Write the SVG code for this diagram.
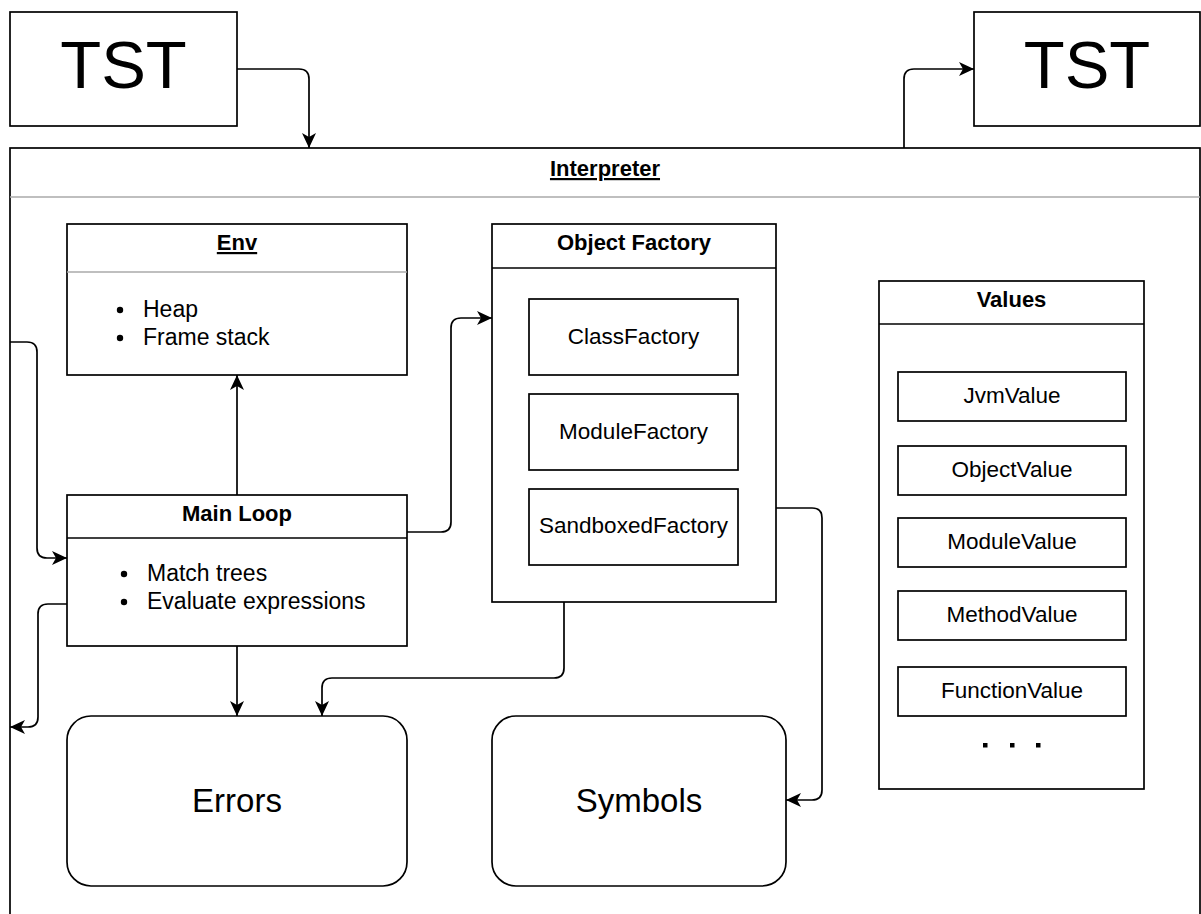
<svg xmlns="http://www.w3.org/2000/svg" width="1201" height="914" viewBox="0 0 1201 914">
  <style>
    .box { fill: #ffffff; stroke: #000000; stroke-width: 1.7; }
    .sep { stroke: #000000; stroke-width: 1.7; }
    .sep-soft { stroke: #aaaaaa; stroke-width: 1.7; }
    .edge { fill: none; stroke: #000000; stroke-width: 1.7; }
    text { font-family: "Liberation Sans", Arial, Helvetica, sans-serif; fill: #000000; }
    .title { font-size: 22px; font-weight: bold; text-anchor: middle; }
    .label { font-size: 22.5px; text-anchor: middle; }
    .item { font-size: 23px; }
    .big { font-size: 67px; text-anchor: middle; }
    .mid { font-size: 33px; text-anchor: middle; }
  </style>
  <defs>
    <marker id="arrow" markerUnits="userSpaceOnUse" markerWidth="16" markerHeight="14" viewBox="0 0 16 14" refX="15" refY="7" orient="auto">
      <path d="M0,0 L15,7 L0,14 L4,7 Z" fill="#000000"/>
    </marker>
  </defs>

  <!-- input tree -->
  <g id="tst-in">
    <rect class="box" x="10" y="12" width="227" height="114"/>
    <text class="big" x="123.5" y="88">TST</text>
  </g>

  <!-- output tree -->
  <g id="tst-out">
    <rect class="box" x="974" y="12" width="226" height="114"/>
    <text class="big" x="1087" y="88">TST</text>
  </g>

  <!-- interpreter container -->
  <g id="interpreter">
    <rect class="box" x="10" y="148" width="1190" height="790"/>
    <line class="sep-soft" x1="10" y1="197" x2="1200" y2="197"/>
    <text class="title" x="605" y="176" text-decoration="underline">Interpreter</text>
  </g>

  <!-- environment -->
  <g id="env">
    <rect class="box" x="67" y="224" width="340" height="151"/>
    <line class="sep-soft" x1="67" y1="272" x2="407" y2="272"/>
    <text class="title" x="237" y="250" text-decoration="underline">Env</text>
    <circle cx="120" cy="310" r="3.2"/>
    <text class="item" x="143" y="317">Heap</text>
    <circle cx="120" cy="338" r="3.2"/>
    <text class="item" x="143" y="345">Frame stack</text>
  </g>

  <!-- main loop -->
  <g id="main-loop">
    <rect class="box" x="67" y="495" width="340" height="151"/>
    <line class="sep" x1="67" y1="538" x2="407" y2="538"/>
    <text class="title" x="237" y="521">Main Loop</text>
    <circle cx="124" cy="574" r="3.2"/>
    <text class="item" x="147" y="581">Match trees</text>
    <circle cx="124" cy="602" r="3.2"/>
    <text class="item" x="147" y="609">Evaluate expressions</text>
  </g>

  <!-- object factory -->
  <g id="object-factory">
    <rect class="box" x="492" y="224" width="284" height="378"/>
    <line class="sep" x1="492" y1="268" x2="776" y2="268"/>
    <text class="title" x="634" y="250">Object Factory</text>
    <g id="class-factory">
      <rect class="box" x="529" y="299" width="209" height="76"/>
      <text class="label" x="633.5" y="344">ClassFactory</text>
    </g>
    <g id="module-factory">
      <rect class="box" x="529" y="394" width="209" height="76"/>
      <text class="label" x="633.5" y="439">ModuleFactory</text>
    </g>
    <g id="sandboxed-factory">
      <rect class="box" x="529" y="489" width="209" height="76"/>
      <text class="label" x="633.5" y="533">SandboxedFactory</text>
    </g>
  </g>

  <!-- values -->
  <g id="values">
    <rect class="box" x="879" y="281" width="265" height="508"/>
    <line class="sep" x1="879" y1="324" x2="1144" y2="324"/>
    <text class="title" x="1011.5" y="307">Values</text>
    <g id="jvm-value">
      <rect class="box" x="898" y="372" width="228" height="49"/>
      <text class="label" x="1012" y="403">JvmValue</text>
    </g>
    <g id="object-value">
      <rect class="box" x="898" y="446" width="228" height="49"/>
      <text class="label" x="1012" y="477">ObjectValue</text>
    </g>
    <g id="module-value">
      <rect class="box" x="898" y="518" width="228" height="49"/>
      <text class="label" x="1012" y="549">ModuleValue</text>
    </g>
    <g id="method-value">
      <rect class="box" x="898" y="591" width="228" height="49"/>
      <text class="label" x="1012" y="622">MethodValue</text>
    </g>
    <g id="function-value">
      <rect class="box" x="898" y="667" width="228" height="49"/>
      <text class="label" x="1012" y="698">FunctionValue</text>
    </g>
    <rect x="983" y="743" width="4.5" height="4.5" fill="#000000"/>
    <rect x="1010" y="743" width="4.5" height="4.5" fill="#000000"/>
    <rect x="1036" y="743" width="4.5" height="4.5" fill="#000000"/>
  </g>

  <!-- errors -->
  <g id="errors">
    <rect class="box" x="67" y="716" width="340" height="170" rx="24" ry="24"/>
    <text class="mid" x="237" y="812">Errors</text>
  </g>

  <!-- symbols -->
  <g id="symbols">
    <rect class="box" x="492" y="716" width="294" height="170" rx="24" ry="24"/>
    <text class="mid" x="639" y="812">Symbols</text>
  </g>

  <!-- connectors -->
  <g id="connectors">
    <path class="edge" marker-end="url(#arrow)" d="M237,69 H299 Q309,69 309,79 V148"/>
    <path class="edge" marker-end="url(#arrow)" d="M904,148 V79 Q904,69 914,69 H974"/>
    <path class="edge" marker-end="url(#arrow)" d="M10,342 H27 Q37,342 37,352 V548 Q37,558 47,558 H67"/>
    <path class="edge" marker-end="url(#arrow)" d="M67,604 H48 Q38,604 38,614 V717 Q38,727 28,727 H10"/>
    <path class="edge" marker-end="url(#arrow)" d="M237,495 V375"/>
    <path class="edge" marker-end="url(#arrow)" d="M407,532 H441 Q451,532 451,522 V328 Q451,318 461,318 H492"/>
    <path class="edge" marker-end="url(#arrow)" d="M776,508 H812 Q822,508 822,518 V790 Q822,800 812,800 H786"/>
    <path class="edge" marker-end="url(#arrow)" d="M564,602 V668 Q564,678 554,678 H332 Q322,678 322,688 V716"/>
    <path class="edge" marker-end="url(#arrow)" d="M237,646 V716"/>
  </g>
</svg>
